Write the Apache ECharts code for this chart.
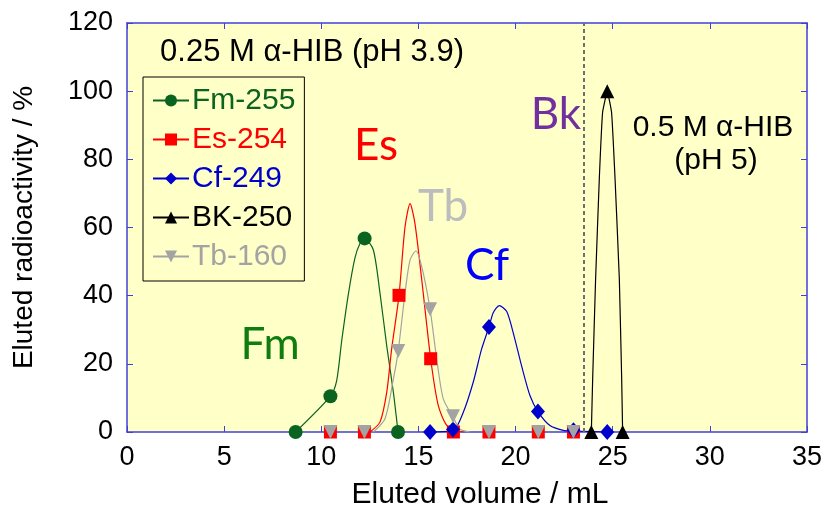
<!DOCTYPE html>
<html><head><meta charset="utf-8">
<script src="https://cdn.jsdelivr.net/npm/echarts@6/dist/echarts.min.js"></script>
<style>html,body{margin:0;padding:0;background:#fff}#c{width:827px;height:515px}</style>
</head><body><div id="c"></div>
<script>
// ---- data ----
const seriesNames = ['Fm-255', 'Es-254', 'Cf-249', 'BK-250', 'Tb-160'];
// measured fractions (x = eluted volume mL, y = radioactivity %)
const fmPoints = [[8.68,0],[10.47,10.5],[12.23,56.8],[13.95,0]];
const esPoints = [[10.47,0],[12.22,0],[14.0,40.1],[15.63,21.5],[16.8,0],[18.63,0],[21.17,0],[22.98,0]];
const cfPoints = [[15.6,0],[16.78,0.7],[18.63,30.8],[21.15,6.0],[22.98,0.5],[24.72,0]];
const bkPoints = [[23.9,0],[24.72,100],[25.51,0]];
const tbPoints = [[10.47,0],[12.22,0],[13.96,23.8],[15.6,36.0],[16.78,4.6],[18.63,0],[21.17,0],[22.98,0]];
// fitted curves
const fmCurve = [[8.68,0],[10.47,10.5],[10.79,15],[11.05,26.7],[11.39,40.3],[11.73,51],[11.99,55.3],[12.23,56.8],[12.68,53.4],[13.02,40.8],[13.37,25.2],[13.71,11.7],[13.95,0]];
const esCurve = [[12.5,0],[13.02,2.9],[13.37,11.7],[13.62,24.3],[14.0,40.1],[14.31,60.2],[14.57,67],[14.82,61.2],[15.17,44.7],[15.63,21.5],[16.02,7.8],[16.45,2.0],[16.97,0.3],[17.4,0]];
const cfCurve = [[15.6,0],[16.8,0.5],[17.31,5.8],[17.82,14.6],[18.25,24.3],[18.63,30.8],[18.85,35],[19.16,37.1],[19.54,35.4],[19.88,29.1],[20.31,19.4],[20.74,10.7],[21.15,6.0],[21.77,1.9],[22.45,0.5],[22.98,0.3],[24.72,0]];
const bkCurve = [[23.9,0],[23.97,16],[24.12,45],[24.31,74.3],[24.48,93.8],[24.72,100],[24.94,93.8],[25.12,74.3],[25.34,45],[25.46,16],[25.51,0]];
const tbCurve = [[12.68,0],[13.28,3.9],[13.71,15.5],[13.96,23.8],[14.31,40.8],[14.57,50.5],[14.87,53.1],[15.17,48.5],[15.6,36.0],[15.94,21.4],[16.28,9.7],[16.78,4.4],[17.14,0.8],[17.65,0]];
const dividerX = 23.5;
const xMin = 0, xMax = 35, xStep = 5;
const yMin = 0, yMax = 120, yStep = 20;

// ---- styling ----
const axisBlue = '#4040D8';
const bg = '#FFFFC8';
const colors = ['#0B6320', '#FF0000', '#0000CC', '#000000', '#A3A3A3'];
const symbols = ['circle', 'rect', 'diamond', 'triangle', 'triangle'];
const rotates = [0, 0, 0, 0, 180];
const sizes = [14, 13, [14, 16], 14, 14];
const smooths = [0.25, 0.25, 0.25, 0.1, 0.25];
const pointsAll = [fmPoints, esPoints, cfPoints, bkPoints, tbPoints];
const curvesAll = [fmCurve, esCurve, cfCurve, bkCurve, tbCurve];
const F = 'Liberation Sans, Arial, sans-serif';

const series = [];
seriesNames.forEach((name, i) => {
  const line = {
    type: 'line', name, data: curvesAll[i], showSymbol: false,
    symbol: symbols[i], symbolRotate: rotates[i], symbolSize: sizes[i],
    smooth: smooths[i],
    itemStyle: { color: colors[i] },
    lineStyle: { color: colors[i], width: 1.2 },
    silent: true, z: 2
  };
  if (i === 3) {
    line.markLine = {
      silent: true, symbol: 'none', label: { show: false },
      lineStyle: { color: '#6E6E6E', type: [4, 3], width: 2 },
      data: [{ xAxis: dividerX }]
    };
  }
  series.push(line);
  series.push({
    type: 'scatter', name, data: pointsAll[i],
    symbol: symbols[i], symbolRotate: rotates[i], symbolSize: sizes[i],
    itemStyle: { color: colors[i], opacity: 1 }, z: 3
  });
});

const chart = echarts.init(document.getElementById('c'), null, { renderer: 'canvas' });
chart.setOption({
  animation: false,
  backgroundColor: '#ffffff',
  grid: { left: 127, right: 20, top: 23, bottom: 80, show: true, backgroundColor: bg, borderWidth: 0 },
  xAxis: [
    { type: 'value', min: xMin, max: xMax, interval: xStep, position: 'bottom',
      axisLine: { show: true, onZero: false, lineStyle: { color: axisBlue, width: 1.5 } },
      axisTick: { show: true, inside: true, length: 6, lineStyle: { color: axisBlue } },
      splitLine: { show: false },
      axisLabel: { color: '#000', fontSize: 27, fontFamily: F, margin: 12 },
      name: 'Eluted volume / mL', nameLocation: 'middle', nameGap: 48,
      nameTextStyle: { color: '#000', fontSize: 30, fontFamily: F, padding: [0, 0, 0, 26] } },
    { type: 'value', min: xMin, max: xMax, interval: xStep, position: 'top',
      axisLine: { show: true, onZero: false, lineStyle: { color: axisBlue, width: 1.5 } },
      axisTick: { show: true, inside: true, length: 6, lineStyle: { color: axisBlue } },
      splitLine: { show: false }, axisLabel: { show: false } }
  ],
  yAxis: [
    { type: 'value', min: yMin, max: yMax, interval: yStep, position: 'left',
      axisLine: { show: true, onZero: false, lineStyle: { color: axisBlue, width: 1.5 } },
      axisTick: { show: true, inside: true, length: 6, lineStyle: { color: axisBlue } },
      splitLine: { show: false },
      axisLabel: { color: '#000', fontSize: 27, fontFamily: F, margin: 14 },
      name: 'Eluted radioactivity / %', nameLocation: 'middle', nameGap: 89,
      nameTextStyle: { color: '#000', fontSize: 28, fontFamily: F } },
    { type: 'value', min: yMin, max: yMax, interval: yStep, position: 'right',
      axisLine: { show: true, onZero: false, lineStyle: { color: axisBlue, width: 1.5 } },
      axisTick: { show: true, inside: true, length: 6, lineStyle: { color: axisBlue } },
      splitLine: { show: false }, axisLabel: { show: false } }
  ],
  legend: {
    orient: 'vertical', left: 143, top: 77,
    padding: [8, 9, 9, 9],
    backgroundColor: bg, borderColor: '#000', borderWidth: 1,
    itemWidth: 36, itemHeight: 15, itemGap: 8, selectedMode: false,
    textStyle: { fontSize: 30, fontFamily: F, lineHeight: 31, padding: [0, 0, 0, -2] },
    data: seriesNames.map((n, i) => ({ name: n, textStyle: { color: colors[i] } }))
  },
  graphic: [
    { type: 'text', x: 312, y: 52, style: { text: '0.25 M \u03b1-HIB (pH 3.9)', font: '31px ' + F, fill: '#000', align: 'center', verticalAlign: 'middle' } },
    { type: 'text', x: 713, y: 128, style: { text: '0.5 M \u03b1-HIB', font: '30px ' + F, fill: '#000', align: 'center', verticalAlign: 'middle' } },
    { type: 'text', x: 716, y: 161, style: { text: '(pH 5)', font: '30px ' + F, fill: '#000', align: 'center', verticalAlign: 'middle' } },
    { type: 'text', x: 376, y: 146, style: { text: 'Es', font: '44px Lato, sans-serif', fill: '#FF0000', align: 'center', verticalAlign: 'middle' } },
    { type: 'text', x: 443, y: 207, style: { text: 'Tb', font: '44px Lato, sans-serif', fill: '#BDBDBD', align: 'center', verticalAlign: 'middle' } },
    { type: 'text', x: 487, y: 266, style: { text: 'Cf', font: '44px Lato, sans-serif', fill: '#0000FF', align: 'center', verticalAlign: 'middle' } },
    { type: 'text', x: 270, y: 345, style: { text: 'Fm', font: '44px Lato, sans-serif', fill: '#0E7C0E', align: 'center', verticalAlign: 'middle' } },
    { type: 'text', x: 556, y: 115, style: { text: 'Bk', font: '44px Lato, sans-serif', fill: '#7030A0', align: 'center', verticalAlign: 'middle' } }
  ],
  series
});
</script></body></html>
